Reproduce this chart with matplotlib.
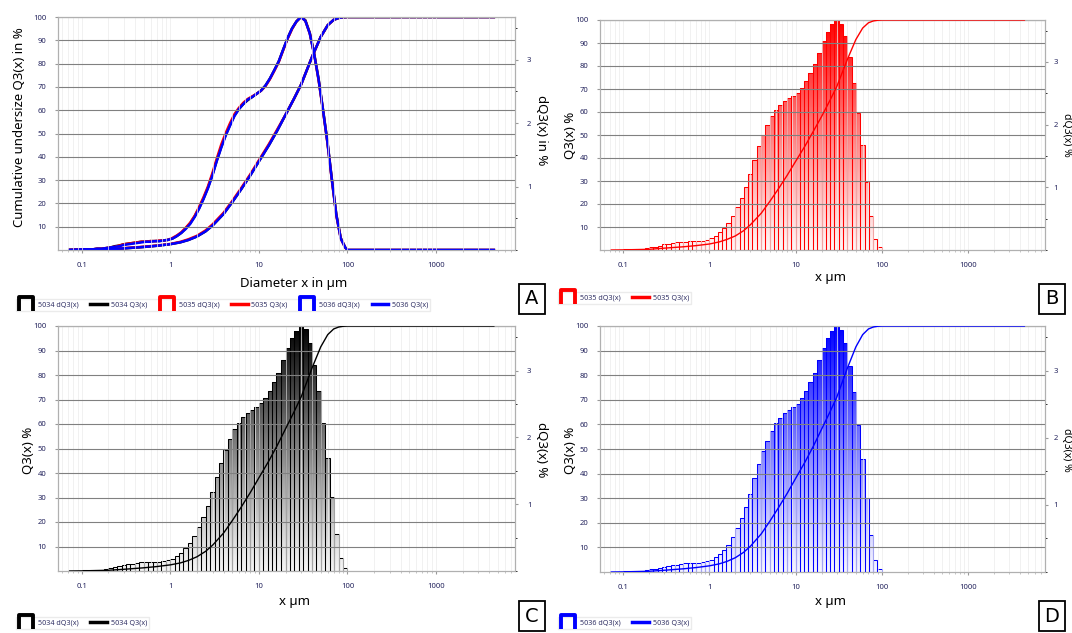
import numpy as np
import matplotlib
matplotlib.use('Agg')
import matplotlib.pyplot as plt
from matplotlib.path import Path
from matplotlib.patches import PathPatch
from matplotlib.lines import Line2D
from matplotlib.colors import to_rgb
from matplotlib.ticker import MultipleLocator

plt.rcParams['font.family'] = ['Noto Sans', 'DejaVu Sans']

# --- data ---
# class edges of the density histogram (µm)
x_edges = [0.100, 0.112, 0.126, 0.141, 0.158, 0.178, 0.200, 0.224, 0.251, 0.282,
           0.316, 0.355, 0.398, 0.447, 0.501, 0.562, 0.631, 0.708, 0.794, 0.891,
           1.00, 1.12, 1.26, 1.41, 1.58, 1.78, 2.00, 2.24, 2.51, 2.82,
           3.16, 3.55, 3.98, 4.47, 5.01, 5.62, 6.31, 7.08, 7.94, 8.91,
           10.0, 11.2, 12.6, 14.1, 15.8, 17.8, 20.0, 22.4, 25.1, 28.2,
           31.6, 35.5, 39.8, 44.7, 50.1, 56.2, 63.1, 70.8, 79.4, 89.1, 100.0]

# density dQ3(x) in % per class
dq3_5034 = [0.01, 0.01, 0.01, 0.02, 0.02, 0.03, 0.04, 0.06, 0.07, 0.09,
            0.10, 0.11, 0.12, 0.13, 0.13, 0.14, 0.14, 0.14, 0.15, 0.16,
            0.18, 0.22, 0.27, 0.34, 0.42, 0.53, 0.66, 0.81, 0.98, 1.18,
            1.41, 1.62, 1.81, 1.97, 2.12, 2.22, 2.30, 2.36, 2.41, 2.46,
            2.51, 2.59, 2.70, 2.83, 2.97, 3.16, 3.34, 3.49, 3.60, 3.67,
            3.62, 3.42, 3.09, 2.69, 2.21, 1.70, 1.11, 0.56, 0.19, 0.04]
dq3_5035 = [0.01, 0.01, 0.01, 0.02, 0.02, 0.03, 0.04, 0.05, 0.07, 0.09,
            0.10, 0.11, 0.12, 0.13, 0.13, 0.14, 0.14, 0.15, 0.15, 0.16,
            0.19, 0.23, 0.28, 0.35, 0.43, 0.54, 0.68, 0.83, 1.00, 1.21,
            1.44, 1.66, 1.84, 2.00, 2.14, 2.24, 2.32, 2.38, 2.42, 2.46,
            2.51, 2.58, 2.69, 2.82, 2.96, 3.15, 3.33, 3.48, 3.60, 3.67,
            3.61, 3.41, 3.08, 2.67, 2.19, 1.68, 1.09, 0.54, 0.18, 0.04]
dq3_5036 = [0.01, 0.01, 0.01, 0.02, 0.02, 0.03, 0.04, 0.05, 0.06, 0.08,
            0.09, 0.10, 0.11, 0.12, 0.13, 0.13, 0.14, 0.14, 0.15, 0.16,
            0.18, 0.22, 0.27, 0.33, 0.41, 0.52, 0.65, 0.80, 0.97, 1.17,
            1.40, 1.61, 1.80, 1.96, 2.11, 2.22, 2.30, 2.37, 2.41, 2.46,
            2.51, 2.59, 2.70, 2.83, 2.97, 3.16, 3.34, 3.49, 3.60, 3.67,
            3.61, 3.41, 3.08, 2.68, 2.20, 1.69, 1.10, 0.55, 0.18, 0.04]

# measured range of the curves (µm)
x_first, x_last = 0.073, 4500

# cumulative undersize Q3(x) in %
q3_x = [0.073, 0.1, 0.2, 0.3, 0.5, 0.7, 1.0, 1.3, 1.6, 2.0, 2.5, 3.0, 4.0, 5.0, 6.3,
        8.0, 10, 13, 16, 20, 25, 30, 40, 50, 60, 70, 80, 90, 100, 4500]
q3_5034 = [0, 0.05, 0.3, 0.7, 1.3, 1.8, 2.5, 3.3, 4.3, 5.8, 8.0, 10.5, 15.5, 20.5, 26,
           32, 38, 45, 51, 58, 65, 71, 83, 91.5, 96.5, 98.8, 99.6, 99.9, 100, 100]
q3_5035 = [0, 0.05, 0.3, 0.8, 1.4, 1.9, 2.6, 3.5, 4.6, 6.1, 8.4, 11.0, 16.0, 21.0, 26.5,
           32.5, 38.5, 45.5, 51.5, 58, 65, 71, 83, 91.5, 96.5, 98.8, 99.6, 99.9, 100, 100]
q3_5036 = [0, 0.05, 0.3, 0.7, 1.3, 1.8, 2.5, 3.3, 4.3, 5.8, 8.0, 10.5, 15.5, 20.5, 26,
           32, 38, 45, 51, 58, 65, 71, 83, 91.5, 96.5, 98.8, 99.6, 99.9, 100, 100]

samples = ['5034', '5035', '5036']
colors = {'5034': 'black', '5035': '#ff0000', '5036': '#0000ff'}
dq3 = {'5034': dq3_5034, '5035': dq3_5035, '5036': dq3_5036}
q3 = {'5034': q3_5034, '5035': q3_5035, '5036': q3_5036}

W, H = 1072, 633
fig = plt.figure(figsize=(W / 100, H / 100), dpi=100)
tick_col = '#25255e'
dq3_top = 3.67


def px_rect(x0, x1, y0, y1):
    return [x0 / W, 1 - y1 / H, (x1 - x0) / W, (y1 - y0) / H]


def make_panel(rect, rpad=6):
    ax = fig.add_axes(rect)
    ax2 = ax.twinx()
    ax.set_zorder(ax2.get_zorder() + 1)
    ax.patch.set_visible(False)
    ax.set_xscale('log')
    ax.yaxis.grid(True, color='#808080', lw=0.8)
    ax.xaxis.grid(True, which='both', color='#ececec', lw=0.5)
    ax.set_yticks(range(10, 101, 10))
    ax.set_xticks([0.1, 1, 10, 100, 1000])
    ax.set_xticklabels(['0.1', '1', '10', '100', '1000'])
    ax.tick_params(labelsize=5.5, colors='#999999', labelcolor=tick_col, length=2.5, pad=6)
    ax.tick_params(axis='x', which='minor', length=1.5, colors='#bbbbbb')
    for t in ax.get_xticklabels() + ax.get_yticklabels():
        t.set_fontweight('bold')
    ax2.set_yticks([1, 2, 3])
    ax2.yaxis.set_minor_locator(MultipleLocator(0.5))
    ax2.tick_params(labelsize=5.5, colors='#999999', labelcolor=tick_col, length=2.5, pad=rpad)
    ax2.tick_params(which='minor', length=1.5)
    for t in ax2.get_yticklabels():
        t.set_fontweight('bold')
    for a in (ax, ax2):
        for s in a.spines.values():
            s.set_color('#b0b0b0')
            s.set_linewidth(0.8)
    return ax, ax2


def finish(ax, ax2):
    ax.set_xlim(0.054, 7800)
    ax.set_ylim(0, 100)
    ax2.set_ylim(0, dq3_top)


def gradient_bars(ax2, vals, color):
    lefts = x_edges[:-1]
    widths = np.diff(x_edges)
    paths = [Path([(l, 0), (r, 0), (r, v), (l, v), (l, 0)], closed=True)
             for l, r, v in zip(x_edges[:-1], x_edges[1:], vals)]
    clip = PathPatch(Path.make_compound_path(*paths), transform=ax2.transData,
                     fc='none', ec='none')
    ax2.add_patch(clip)
    rgba = np.zeros((256, 1, 4))
    rgba[..., :3] = to_rgb(color)
    rgba[:, 0, 3] = 0.04 + 0.96 * np.linspace(0, 1, 256) ** 1.1
    im = ax2.imshow(rgba, extent=[0, 1, 0, 1], transform=ax2.transAxes,
                    origin='lower', aspect='auto', zorder=2, interpolation='bilinear')
    im.set_clip_path(clip)
    ax2.bar(lefts, vals, width=widths, align='edge', facecolor='none',
            edgecolor=color, linewidth=0.75, zorder=3)


cup = Path([(-1, -1), (-1, 1), (1, 1), (1, -1)],
           [Path.MOVETO, Path.LINETO, Path.LINETO, Path.LINETO])


def legend(keys, x, y):
    handles, labels = [], []
    for k in keys:
        handles.append(Line2D([], [], marker=cup, ls='none', ms=10, mew=2.8,
                              mfc='none', mec=colors[k]))
        labels.append(f'{k} dQ3(x)')
        handles.append(Line2D([], [], color=colors[k], lw=2.5))
        labels.append(f'{k} Q3(x)')
    fig.legend(handles, labels, loc='center left', bbox_to_anchor=(x / W, 1 - y / H),
               ncol=len(handles), fontsize=5.2, frameon=True, edgecolor='#e6e6e6',
               fancybox=False, handlelength=2.3, handletextpad=0.5, columnspacing=1.6,
               borderpad=0.3, labelcolor='#333366')


def letter(s, x, y):
    fig.text(x / W, 1 - y / H, s, fontsize=14, ha='center', va='center', family='DejaVu Sans',
             bbox=dict(boxstyle='square,pad=0.3', fc='white', ec='black', lw=1.3))


def label(s, x, y, rot=0, size=9.5):
    fig.text(x / W, 1 - y / H, s, fontsize=size, ha='center', va='center', rotation=rot)


centers = np.sqrt(np.array(x_edges[:-1]) * np.array(x_edges[1:]))

# --- A: all three samples as curves ---
axA, axA2 = make_panel(px_rect(58, 515, 17, 250))
for k in samples:
    xs = [x_first] + list(centers) + [x_edges[-1], x_last]
    ys = [0] + list(dq3[k]) + [0, 0]
    axA2.plot(xs, ys, color=colors[k], lw=1.8, zorder=3)
    axA2.plot(q3_x, np.array(q3[k]) * dq3_top / 100, color=colors[k], lw=1.8, zorder=3)
finish(axA, axA2)
label('Diameter x in µm', 294, 283)
label('Cumulative undersize Q3(x) in %', 20, 127, 90)
label('dQ3(x) in %', 541, 130, 270)
legend(samples, 12, 305)
letter('A', 532, 299)

# --- B, C, D: histogram + cumulative per sample ---
panels = [('5035', px_rect(600, 1045, 20, 250), 'B', 135, 278, 298, 1052, 299),
          ('5034', px_rect(58, 515, 326, 571), 'C', 450, 601, 623, 532, 616),
          ('5036', px_rect(600, 1045, 326, 572), 'D', 450, 601, 623, 1052, 616)]
for k, rect, tag, ymid, xl_y, leg_y, box_x, box_y in panels:
    ax, ax2 = make_panel(rect, rpad=6 if tag == 'C' else 3.5)
    gradient_bars(ax2, dq3[k], colors[k])
    ax.plot(q3_x, q3[k], color=colors[k], lw=1.0, zorder=4)
    finish(ax, ax2)
    left = 58 if tag == 'C' else 600
    right = 515 if tag == 'C' else 1045
    label('x µm', (left + right) / 2 + 8, xl_y)
    label('Q3(x) %', left - 30, ymid, 90)
    if tag == 'C':
        label('dQ3(x) %', right + 26, ymid, 270)
    else:
        label('dQ3(x) %', 1066, ymid, 270, size=7.5)
    legend([k], left - 46, leg_y)
    letter(tag, box_x, box_y)

fig.savefig('out.png', dpi=100)
